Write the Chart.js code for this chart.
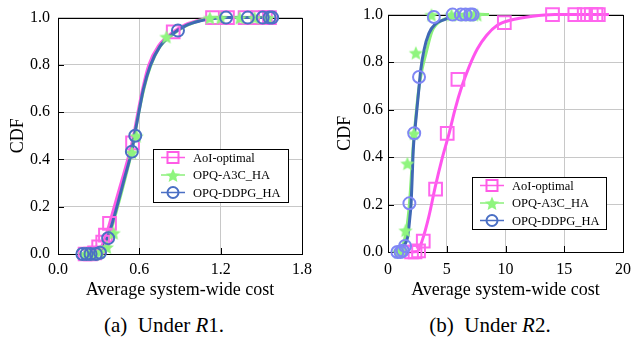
<!DOCTYPE html>
<html>
<head>
<meta charset="utf-8">
<script src="https://cdn.jsdelivr.net/npm/chart.js@4.4.0/dist/chart.umd.min.js"></script>
<style>
  body { margin: 0; background: #fff; width: 639px; height: 339px; overflow: hidden; position: relative; font-family: "Liberation Serif", serif; }
  canvas { position: absolute; top: 0; }
  #graficoR1 { left: 0; }
  #graficoR2 { left: 320px; }
  .legenda { position: absolute; top: 313px; font-size: 21px; white-space: nowrap; transform: translateX(-50%); color: #000; }
</style>
</head>
<body>
<canvas id="graficoR1" width="320" height="305"></canvas>
<canvas id="graficoR2" width="319" height="305"></canvas>
<div class="legenda" style="left:164px">(a)&nbsp; Under <i>R</i>1.</div>
<div class="legenda" style="left:490px">(b)&nbsp; Under <i>R</i>2.</div>
<script>
// Nomes das séries
const seriesNames = ['AoI-optimal', 'OPQ-A3C_HA', 'OPQ-DDPG_HA'];

// Marcas dos eixos
const r1XTicks = [0, 0.6, 1.2, 1.8];
const r2XTicks = [0, 5, 10, 15, 20];
const yTicks = [0, 0.2, 0.4, 0.6, 0.8, 1.0];

// (a) R1: curvas [custo, CDF]
const r1AoiCurve = [[0.2,0],[0.28,0.005],[0.32,0.03],[0.36,0.09],[0.4,0.17],[0.45,0.27],[0.5,0.37],[0.55,0.48],[0.59,0.6],[0.625,0.7],[0.67,0.8],[0.74,0.88],[0.84,0.935],[0.94,0.97],[1.05,0.99],[1.15,1.0],[1.55,1.0]];
const r1A3cCurve = [[0.22,0],[0.3,0.01],[0.35,0.04],[0.39,0.1],[0.44,0.2],[0.5,0.33],[0.55,0.45],[0.59,0.58],[0.63,0.69],[0.68,0.79],[0.75,0.875],[0.85,0.93],[0.95,0.967],[1.05,0.988],[1.15,1.0],[1.56,1.0]];
const r1DdpgCurve = [[0.18,0],[0.25,0.002],[0.3,0.01],[0.335,0.03],[0.384,0.1],[0.433,0.197],[0.49,0.32],[0.545,0.44],[0.57,0.52],[0.6,0.61],[0.63,0.697],[0.68,0.795],[0.752,0.878],[0.85,0.933],[0.95,0.968],[1.05,0.986],[1.15,0.996],[1.25,1.0],[1.58,1.0]];

// (a) R1: marcadores
const r1AoiMarks = [[0.2,0],[0.24,0],[0.27,0.005],[0.3,0.03],[0.33,0.05],[0.35,0.08],[0.38,0.13],[0.55,0.47],[0.85,0.94],[1.14,1.0],[1.25,1.0],[1.38,1.0],[1.48,1.0],[1.53,1.0],[1.56,1.0]];
const r1A3cMarks = [[0.2,0],[0.23,0],[0.27,0],[0.31,0.01],[0.36,0.03],[0.41,0.09],[0.545,0.43],[0.58,0.5],[0.8,0.92],[1.12,1.0],[1.2,1.0],[1.34,1.0],[1.45,1.0],[1.55,1.0]];
const r1DdpgMarks = [[0.18,0],[0.21,0],[0.24,0],[0.28,0],[0.31,0.005],[0.37,0.067],[0.545,0.433],[0.57,0.5],[0.885,0.945],[1.24,1.0],[1.4,1.0],[1.51,1.0],[1.56,1.0],[1.58,1.0]];

// (b) R2: curvas
const r2AoiCurve = [[1.9,0],[2.5,0.002],[2.92,0.05],[3.47,0.148],[4.02,0.274],[4.57,0.387],[5.2,0.5],[5.7,0.6],[6.3,0.7],[6.9,0.78],[7.6,0.855],[8.4,0.913],[9.3,0.955],[10.4,0.976],[12.3,0.993],[14.2,1.0],[18.8,1.0]];
const r2A3cCurve = [[0.8,0],[1.1,0.01],[1.4,0.05],[1.65,0.12],[1.85,0.22],[2.0,0.33],[2.15,0.45],[2.35,0.56],[2.6,0.68],[2.9,0.77],[3.2,0.83],[3.75,0.93],[4.57,0.975],[5.95,0.99],[7.0,1.0],[8.6,1.0]];
const r2DdpgCurve = [[1.0,0],[1.4,0.03],[1.68,0.064],[1.87,0.15],[1.96,0.2],[2.04,0.29],[2.15,0.43],[2.3,0.52],[2.59,0.667],[2.78,0.765],[3.06,0.85],[3.47,0.92],[4.02,0.96],[4.85,0.98],[5.6,0.993],[6.5,1.0],[7.6,1.0]];

// (b) R2: marcadores
const r2AoiMarks = [[2.0,0],[2.3,0],[2.6,0.005],[3.0,0.046],[4.05,0.265],[5.04,0.5],[5.95,0.727],[9.9,0.966],[14.0,1.0],[15.9,1.0],[16.7,1.0],[17.3,1.0],[17.7,1.0],[17.9,1.0]];
const r2A3cMarks = [[0.9,0],[1.0,0.005],[1.15,0.01],[1.49,0.092],[1.65,0.374],[2.2,0.5],[2.37,0.84],[3.7,1.0],[5.4,1.0],[6.0,1.0],[6.6,1.0],[7.0,1.0],[7.3,1.0],[7.6,1.0]];
const r2DdpgMarks = [[0.8,0],[1.07,0],[1.25,0.005],[1.45,0.025],[1.82,0.205],[2.23,0.5],[2.64,0.737],[3.9,0.99],[5.5,1.0],[6.2,1.0],[6.6,1.0],[7.0,1.0],[7.2,1.0]];

const FONT = '"Liberation Serif", "Times New Roman", serif';
const toXY = (pts) => pts.map(([x, y]) => ({ x, y }));

// Estrela preenchida (o 'star' do Chart.js é só riscos)
const criarEstrela = (size, fill) => {
  const c = document.createElement('canvas');
  c.width = c.height = size;
  const g = c.getContext('2d');
  const R = size / 2 - 0.5, r = R * 0.45;
  g.beginPath();
  for (let i = 0; i < 10; i++) {
    const a = -Math.PI / 2 + i * Math.PI / 5;
    const rad = i % 2 ? r : R;
    g.lineTo(size / 2 + rad * Math.cos(a), size / 2 + 1 + rad * Math.sin(a));
  }
  g.closePath();
  g.fillStyle = fill;
  g.fill();
  return c;
};

const estrela = criarEstrela(16, '#8ff57e');

// Moldura preta e marcas para dentro
const molduraPlugin = {
  id: 'moldura',
  beforeDatasetsDraw(chart) {
    const { ctx, chartArea: a, scales } = chart;
    ctx.save();
    ctx.strokeStyle = '#000';
    ctx.lineWidth = 1;
    ctx.beginPath();
    scales.x.ticks.forEach((t, i) => {
      const px = Math.round(scales.x.getPixelForTick(i)) + 0.5;
      ctx.moveTo(px, a.bottom);
      ctx.lineTo(px, a.bottom - 6);
    });
    scales.y.ticks.forEach((t, i) => {
      const py = Math.round(scales.y.getPixelForTick(i)) + 0.5;
      ctx.moveTo(a.left, py);
      ctx.lineTo(a.left + 6, py);
    });
    ctx.stroke();
    ctx.strokeRect(Math.round(a.left) + 0.5, Math.round(a.top) + 0.5, Math.round(a.right - a.left), Math.round(a.bottom - a.top));
    ctx.restore();
  }
};

// Legenda com caixa, linha e marcador
const caixaLegendaPlugin = {
  id: 'caixaLegenda',
  afterDraw(chart, args, opts) {
    const { ctx } = chart;
    const { x, y, w, h, cores } = opts;
    ctx.save();
    ctx.fillStyle = '#fff';
    ctx.fillRect(x, y, w, h);
    ctx.strokeStyle = '#000';
    ctx.lineWidth = 1;
    ctx.strokeRect(x + 0.5, y + 0.5, w, h);
    const linhas = [8.5, 26, 43.5];
    seriesNames.forEach((nome, i) => {
      const cy = y + linhas[i];
      ctx.strokeStyle = cores[i];
      ctx.lineWidth = 1.5;
      ctx.beginPath();
      ctx.moveTo(x + 8, cy);
      ctx.lineTo(x + 32, cy);
      ctx.stroke();
      const mx = x + 20;
      ctx.lineWidth = 2;
      if (i === 0) {
        ctx.strokeRect(mx - 5.5, cy - 5.5, 11, 11);
      } else if (i === 1) {
        ctx.drawImage(estrela, mx - 8, cy - 8);
      } else {
        ctx.beginPath();
        ctx.arc(mx, cy, 5.5, 0, Math.PI * 2);
        ctx.stroke();
      }
      ctx.fillStyle = '#000';
      ctx.font = '12.5px ' + FONT;
      ctx.textBaseline = 'middle';
      ctx.fillText(nome, x + 40, cy + 1);
    });
    ctx.restore();
  }
};

const criarGrafico = (id, dados, xTicks, xMax, caixa, geo) => {
  const [aoiC, a3cC, ddpgC, aoiM, a3cM, ddpgM] = dados;
  const linha = (pts, cor, ordem) => ({
    data: toXY(pts), showLine: true, pointRadius: 0, borderColor: cor, borderWidth: 3,
    cubicInterpolationMode: 'monotone', clip: false, order: ordem
  });
  const marca = (pts, estilo, cor, fundo, raio, ordem) => ({
    data: toXY(pts), showLine: false, pointStyle: estilo, pointRadius: raio, borderColor: cor,
    backgroundColor: fundo, borderWidth: 2, clip: false, order: ordem
  });
  const ctx = document.getElementById(id).getContext('2d');
  return new Chart(ctx, {
    type: 'scatter',
    data: {
      datasets: [
        linha(aoiC, geo.pink, 6),
        linha(a3cC, '#8bef7b', 5),
        linha(ddpgC, '#3f68b5', 4),
        marca(aoiM, 'rect', geo.pinkMark, 'rgba(0,0,0,0)', 9, 3),
        marca(a3cM, estrela, '#8ff57e', '#8ff57e', 8, 2),
        marca(ddpgM, 'circle', geo.blueMark, 'rgba(0,0,0,0)', 6, 1)
      ]
    },
    options: {
      responsive: false,
      animation: false,
      events: [],
      layout: { padding: { top: 14, right: geo.padRight, left: 0, bottom: 0 } },
      plugins: {
        legend: { display: false },
        tooltip: { enabled: false },
        caixaLegenda: caixa
      },
      scales: {
        x: {
          type: 'linear', min: 0, max: xMax,
          afterBuildTicks: (s) => { s.ticks = xTicks.map((v) => ({ value: v })); },
          afterFit: (s) => { s.height = 305 - geo.bottom; },
          ticks: { padding: geo.xPad, color: '#000', font: { family: FONT, size: 16 }, callback: geo.xFmt },
          grid: { color: '#c8c8c8', lineWidth: 1, drawTicks: false },
          border: { display: false },
          title: { display: true, text: 'Average system-wide cost', color: '#000', font: { family: FONT, size: 18 }, padding: { top: 0, bottom: 4 } }
        },
        y: {
          type: 'linear', min: 0, max: 1,
          afterBuildTicks: (s) => { s.ticks = yTicks.map((v) => ({ value: v })); },
          afterFit: (s) => { s.width = geo.left; },
          ticks: { padding: geo.yPad, color: '#000', font: { family: FONT, size: 16 }, callback: (v) => v.toFixed(1) },
          grid: { color: '#c8c8c8', lineWidth: 1, drawTicks: false },
          border: { display: false },
          title: { display: true, text: 'CDF', color: '#000', font: { family: FONT, size: 18 }, padding: { top: geo.titlePad, bottom: 0 } }
        }
      }
    },
    plugins: [molduraPlugin, caixaLegendaPlugin]
  });
};

criarGrafico('graficoR1',
  [r1AoiCurve, r1A3cCurve, r1DdpgCurve, r1AoiMarks, r1A3cMarks, r1DdpgMarks],
  r1XTicks, 1.8,
  { x: 153, y: 149, w: 135, h: 53, cores: ['#ff5be6', '#8bef7b', '#4a6fc4'] },
  { pink: '#ff5be6', pinkMark: '#ff66e8', blueMark: '#4a70c4', padRight: 18, bottom: 254, left: 58, xPad: 6, yPad: 8, titlePad: 7, xFmt: (v) => v.toFixed(1) });

criarGrafico('graficoR2',
  [r2AoiCurve, r2A3cCurve, r2DdpgCurve, r2AoiMarks, r2A3cMarks, r2DdpgMarks],
  r2XTicks, 20,
  { x: 152, y: 177, w: 134, h: 52, cores: ['#ff5be6', '#8bef7b', '#4a6fc4'] },
  { pink: '#ff55ee', pinkMark: '#ff66ee', blueMark: '#7f86f5', padRight: 9, bottom: 252, left: 68, xPad: 8, yPad: 5, titlePad: 14, xFmt: (v) => String(v) });
</script>
</body>
</html>
